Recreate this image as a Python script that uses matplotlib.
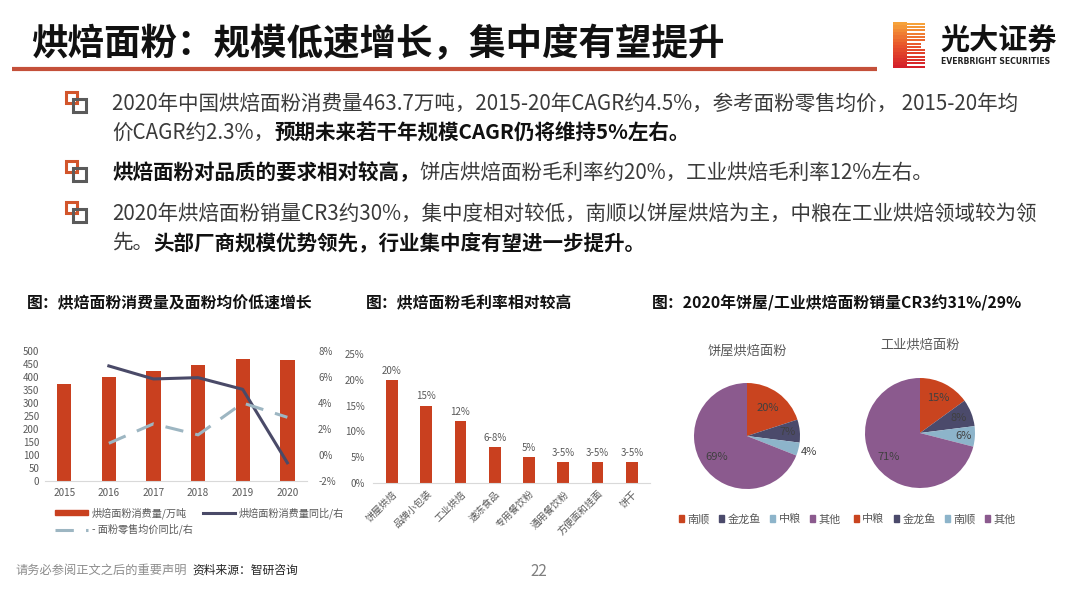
import numpy as np
import matplotlib.pyplot as plt
from matplotlib.patches import Rectangle, Patch
from matplotlib.lines import Line2D
from matplotlib.colors import LinearSegmentedColormap

plt.rcParams['font.family'] = ['Noto Sans CJK SC', 'DejaVu Sans']
plt.rcParams['axes.unicode_minus'] = False

W, H = 1080, 608

# ---- data ----
years = ['2015', '2016', '2017', '2018', '2019', '2020']
consumption = [372, 399, 422, 446, 469, 463.7]          # 万吨
consumption_yoy = [np.nan, 6.85, 5.85, 5.95, 5.05, -0.6]  # %
price_yoy = [np.nan, 0.9, 2.4, 1.55, 4.0, 2.9]           # %

margin_cats = ['饼屋烘焙', '品牌小包装', '工业烘焙', '速冻食品',
               '专用餐饮粉', '通用餐饮粉', '方便面和挂面', '饼干']
margin_vals = [20, 15, 12, 7, 5, 4, 4, 4]
margin_labels = ['20%', '15%', '12%', '6-8%', '5%', '3-5%', '3-5%', '3-5%']

bakery_names = ['南顺', '金龙鱼', '中粮', '其他']
bakery_share = [20, 7, 4, 69]
industrial_names = ['中粮', '金龙鱼', '南顺', '其他']
industrial_share = [15, 8, 6, 71]

RED = '#C9401F'
DARK = '#4A4A68'
LIGHT = '#9DB6C2'
PIE_COLORS = ['#C9441F', '#4B4A6B', '#8DB4CA', '#8B5A8E']
GREY = '#595959'

fig = plt.figure(figsize=(W / 100, H / 100), dpi=100)
fig.patch.set_facecolor('white')


def px_axes(x0, y0, x1, y1):
    return fig.add_axes([x0 / W, 1 - y1 / H, (x1 - x0) / W, (y1 - y0) / H])


# full-slide layer in pixel coordinates
bg = fig.add_axes([0, 0, 1, 1])
bg.set_xlim(0, W)
bg.set_ylim(H, 0)
bg.axis('off')

# title + underline
bg.text(31, 45, '烘焙面粉：规模低速增长，集中度有望提升', fontsize=26.3,
        fontweight='bold', color='#111111', va='center', ha='left')
bg.plot([12, 877], [69, 69], color='#C4503A', lw=3, solid_capstyle='butt')

# logo
logo_cmap = LinearSegmentedColormap.from_list('logo', ['#F6A23A', '#E8552B', '#D4202A'])
stripe_cols = logo_cmap(np.linspace(0, 1, 14))
for i, c in enumerate(stripe_cols):
    y = 22 + i * 3.3
    bg.add_patch(Rectangle((893, y), 14, 3.35, color=c, lw=0))
    bg.add_patch(Rectangle((907, y + 0.7), 18 - (4 if i in (6, 7) else 0), 2.0, color=c, lw=0))
bg.text(940, 41, '光大证券', fontsize=21, fontweight='bold', color='#111111', va='center')
bg.text(941, 62, 'EVERBRIGHT SECURITIES', fontsize=5.6, fontweight='bold',
        color='#222222', va='center', family='DejaVu Sans')


def bullet_icon(y):
    bg.add_patch(Rectangle((66, y - 12), 11, 11, fill=False, ec='#D2552B', lw=2.2))
    bg.add_patch(Rectangle((73, y - 5), 13, 13, fill=False, ec='#5A5A5A', lw=2.2))


def rich_line(x, y, parts, size=14.8):
    prev = None
    for txt, bold in parts:
        kw = dict(fontsize=size, fontweight='bold' if bold else 'normal',
                  color='#111111' if bold else '#3A3A3A', ha='left')
        if prev is None:
            prev = bg.text(x, y, txt, va='center', **kw)
        else:
            prev = bg.annotate(txt, xy=(1, 0), xycoords=prev, va='bottom', **kw)


bullet_icon(104)
rich_line(112, 104, [('2020年中国烘焙面粉消费量463.7万吨，2015-20年CAGR约4.5%，参考面粉零售均价， 2015-20年均', False)])
rich_line(112, 133, [('价CAGR约2.3%，', False), ('预期未来若干年规模CAGR仍将维持5%左右。', True)])
bullet_icon(173)
rich_line(112, 173, [('烘焙面粉对品质的要求相对较高，', True), ('饼店烘焙面粉毛利率约20%，工业烘焙毛利率12%左右。', False)])
bullet_icon(214)
rich_line(112, 214, [('2020年烘焙面粉销量CR3约30%，集中度相对较低，南顺以饼屋烘焙为主，中粮在工业烘焙领域较为领', False)])
rich_line(112, 243, [('先。', False), ('头部厂商规模优势领先，行业集中度有望进一步提升。', True)])

# chart titles
for x, t in [(27, '图：烘焙面粉消费量及面粉均价低速增长'),
             (366, '图：烘焙面粉毛利率相对较高'),
             (652, '图：2020年饼屋/工业烘焙面粉销量CR3约31%/29%')]:
    bg.text(x, 303, t, fontsize=11.4, fontweight='bold', color='#111111', va='center')

# footer
bg.text(15, 570, '请务必参阅正文之后的重要声明', fontsize=8.8, color='#8C8C8C', va='center')
bg.text(192, 570, '资料来源：智研咨询', fontsize=8.5, color='#222222', va='center')
bg.text(530, 571, '22', fontsize=11, color='#7F7F7F', va='center')

# ---- chart 1: consumption bars + yoy lines ----
ax1 = px_axes(45, 351, 307, 481)
x = np.arange(len(years))
ax1.bar(x, consumption, width=0.32, color=RED, zorder=2)
ax1.set_xlim(-0.43, 5.44)
ax1.set_ylim(0, 500)
ax1.set_yticks(range(0, 501, 50))
ax1.set_xticks(x)
ax1.set_xticklabels(years)
for s in ['top', 'right', 'left']:
    ax1.spines[s].set_visible(False)
ax1.spines['bottom'].set_color('#D9D9D9')
ax1.tick_params(axis='y', length=0, labelsize=7, colors=GREY, pad=4)
ax1.tick_params(axis='x', length=0, labelsize=7.2, colors=GREY, pad=5)

ax1b = ax1.twinx()
ax1b.plot(x, consumption_yoy, color=DARK, lw=2.2)
ax1b.plot(x, price_yoy, color=LIGHT, lw=2.2, dashes=(6, 4))
ax1b.set_ylim(-2, 8)
ax1b.set_yticks(range(-2, 9, 2))
ax1b.set_yticklabels([f'{v}%' for v in range(-2, 9, 2)])
for s in ax1b.spines.values():
    s.set_visible(False)
ax1b.tick_params(axis='y', length=0, labelsize=7, colors=GREY, pad=8)

handles = [Patch(color=RED),
           Line2D([], [], color=LIGHT, lw=2.2, dashes=(6, 4)),
           Line2D([], [], color=DARK, lw=2.2)]
labels = ['烘焙面粉消费量/万吨', '- 面粉零售均价同比/右', '烘焙面粉消费量同比/右']
fig.legend(handles, labels, ncol=2, loc='upper left', bbox_to_anchor=(50 / W, 1 - 502 / H),
           frameon=False, fontsize=7.3, labelcolor=GREY, handlelength=3.2, handleheight=0.5,
           columnspacing=1.0, handletextpad=0.4, labelspacing=0.5, borderpad=0)

# ---- chart 2: gross margin ----
ax2 = px_axes(373, 354, 650, 483)
xm = np.arange(len(margin_cats))
bars = ax2.bar(xm, margin_vals, width=0.34, color=RED, zorder=2)
ax2.bar_label(bars, labels=margin_labels, padding=3, fontsize=7, color=GREY)
ax2.set_xlim(-0.55, 7.53)
ax2.set_ylim(0, 25)
ax2.set_yticks(range(0, 26, 5))
ax2.set_yticklabels([f'{v}%' for v in range(0, 26, 5)])
ax2.set_xticks(xm)
ax2.set_xticklabels(margin_cats, rotation=45, ha='right', rotation_mode='anchor')
for s in ['top', 'right', 'left']:
    ax2.spines[s].set_visible(False)
ax2.spines['bottom'].set_color('#D9D9D9')
ax2.tick_params(axis='y', length=0, labelsize=7, colors=GREY, pad=6)
ax2.tick_params(axis='x', length=0, labelsize=7, colors=GREY, pad=4)

# ---- chart 3: two pies ----


def draw_pie(cx, cy, r, shares, names, title, title_y, label_dist, legend_x):
    ax = px_axes(cx - r, cy - r, cx + r, cy + r)
    wedges, _ = ax.pie(shares, colors=PIE_COLORS, startangle=90, counterclock=False,
                       wedgeprops=dict(lw=0))
    ax.set_xlim(-1, 1)
    ax.set_ylim(-1, 1)
    ax.set_aspect('equal')
    for w, v, d in zip(wedges, shares, label_dist):
        ang = np.deg2rad((w.theta1 + w.theta2) / 2)
        ax.text(d * np.cos(ang), d * np.sin(ang), f'{v}%', ha='center', va='center',
                fontsize=8, color='#404040')
    bg.text(cx, title_y, title, fontsize=9.5, color=GREY, ha='center', va='center')
    hs = [Patch(color=c) for c in PIE_COLORS]
    fig.legend(hs, names, ncol=4, loc='center left', bbox_to_anchor=(legend_x / W, 1 - 519 / H),
               frameon=False, fontsize=8, labelcolor=GREY, handlelength=0.5, handleheight=0.5,
               handletextpad=0.3, columnspacing=0.8, borderpad=0)


draw_pie(747, 436, 53, bakery_share, bakery_names, '饼屋烘焙面粉', 351,
         [0.66, 0.76, 1.2, 0.7], 673)
draw_pie(920, 433, 55, industrial_share, industrial_names, '工业烘焙面粉', 345,
         [0.72, 0.76, 0.8, 0.72], 848)

fig.savefig('out.png', dpi=100, facecolor='white')
